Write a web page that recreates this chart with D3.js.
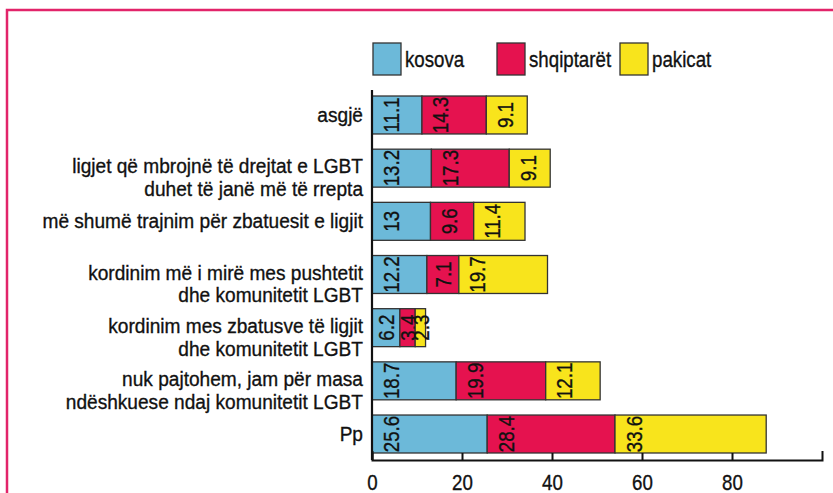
<!DOCTYPE html>
<html>
<head>
<meta charset="utf-8">
<script src="https://cdn.jsdelivr.net/npm/d3@7"></script>
<style>
  body { margin: 0; background: #fff; }
  svg { display: block; font-family: "Liberation Sans", Arial, "Helvetica", sans-serif; }
  svg text { stroke: #111; stroke-width: 0.35px; }
  .axis text { font-size: 22px; fill: #111; }
  .axis path, .axis line { stroke: #111; stroke-width: 2px; }
</style>
</head>
<body>
<svg id="chart" width="833" height="493"></svg>
<script>
const categories = [
  'asgjë',
  'ligjet që mbrojnë të drejtat e LGBT\nduhet të janë më të rrepta',
  'më shumë trajnim për zbatuesit e ligjit',
  'kordinim më i mirë mes pushtetit\ndhe komunitetit LGBT',
  'kordinim mes zbatusve të ligjit\ndhe komunitetit LGBT',
  'nuk pajtohem, jam për masa\nndëshkuese ndaj komunitetit LGBT',
  'Pp'
];
const seriesNames = ['kosova', 'shqiptarët', 'pakicat'];
const kosova = [11.1, 13.2, 13, 12.2, 6.2, 18.7, 25.6];
const shqiptaret = [14.3, 17.3, 9.6, 7.1, 3.4, 19.9, 28.4];
const pakicat = [9.1, 9.1, 11.4, 19.7, 2.3, 12.1, 33.6];
const xTicks = [0, 20, 40, 60, 80];

// the print uses a condensed face, so squeeze the text horizontally
const squeeze = 0.85;

const colors = d3.scaleOrdinal()
  .domain(seriesNames)
  .range(['#6cb9d9', '#e5124f', '#f8e41c']);

const rows = categories.map((c, i) => ({
  category: c,
  kosova: kosova[i],
  'shqiptarët': shqiptaret[i],
  pakicat: pakicat[i]
}));

const svg = d3.select('#chart');

// frame
svg.append('rect')
  .attr('x', 7).attr('y', 10)
  .attr('width', 850).attr('height', 510)
  .attr('fill', 'none')
  .attr('stroke', '#e2246a')
  .attr('stroke-width', 2.5);

const x = d3.scaleLinear().domain([0, 100]).range([372, 822]);
const y = d3.scaleBand()
  .domain(categories)
  .range([90, 459])
  .paddingInner(0.286)
  .paddingOuter(0.113);

const stacked = d3.stack().keys(seriesNames)(rows);

const g = svg.append('g');

const layers = g.selectAll('.layer')
  .data(stacked)
  .enter()
  .append('g')
  .attr('class', 'layer')
  .attr('fill', d => colors(d.key));

layers.selectAll('rect')
  .data(d => d)
  .enter()
  .append('rect')
  .attr('x', d => x(d[0]))
  .attr('y', d => y(d.data.category))
  .attr('width', d => x(d[1]) - x(d[0]))
  .attr('height', y.bandwidth())
  .attr('stroke', '#333')
  .attr('stroke-width', 1.3);

// rotated value labels
layers.selectAll('text')
  .data(d => d.map(v => ({ v, key: d.key })))
  .enter()
  .append('text')
  .attr('transform', d => {
    const w = x(d.v[1]) - x(d.v[0]);
    const cx = x(d.v[0]) + Math.min(w / 2 + 1, 19);
    const cy = y(d.v.data.category) + y.bandwidth() / 2;
    return `translate(${cx},${cy}) rotate(-90) scale(${squeeze},1)`;
  })
  .attr('text-anchor', 'middle')
  .attr('dominant-baseline', 'central')
  .attr('fill', '#111')
  .style('font-size', '22px')
  .text(d => d.v.data[d.key]);

// category labels
const labels = g.selectAll('.cat')
  .data(categories)
  .enter()
  .append('text')
  .attr('class', 'cat')
  .attr('text-anchor', 'end')
  .attr('fill', '#111')
  .style('font-size', '21px')
  .attr('transform', d => {
    const lift = d.includes('\n') ? 2 : 0;
    return `translate(363,${y(d) + y.bandwidth() / 2 + 7 - lift}) scale(0.91,1)`;
  });

labels.selectAll('tspan')
  .data(d => d.split('\n'))
  .enter()
  .append('tspan')
  .attr('x', 0)
  .attr('dy', (d, i) => (i === 0 ? 0 : 23))
  .text(d => d);

// axes
const xAxis = d3.axisBottom(x)
  .tickValues(xTicks)
  .tickSizeInner(-7)
  .tickSizeOuter(-9)
  .tickPadding(14);

g.append('g')
  .attr('class', 'axis')
  .attr('transform', 'translate(0,460)')
  .call(xAxis)
  .selectAll('text')
  .attr('transform', `scale(${squeeze},1)`);

g.append('line')
  .attr('x1', x(0)).attr('x2', x(0))
  .attr('y1', 90).attr('y2', 460)
  .attr('stroke', '#111')
  .attr('stroke-width', 2.2);

// legend
const legendX = [373, 497, 620];
const legend = svg.append('g')
  .selectAll('.key')
  .data(seriesNames)
  .enter()
  .append('g')
  .attr('class', 'key')
  .attr('transform', (d, i) => `translate(${legendX[i]},43)`);

legend.append('rect')
  .attr('width', 28)
  .attr('height', 32)
  .attr('fill', d => colors(d))
  .attr('stroke', '#333')
  .attr('stroke-width', 1.3);

legend.append('text')
  .attr('transform', `translate(32,24) scale(${squeeze},1)`)
  .attr('fill', '#111')
  .style('font-size', '22px')
  .text(d => d);
</script>
</body>
</html>
